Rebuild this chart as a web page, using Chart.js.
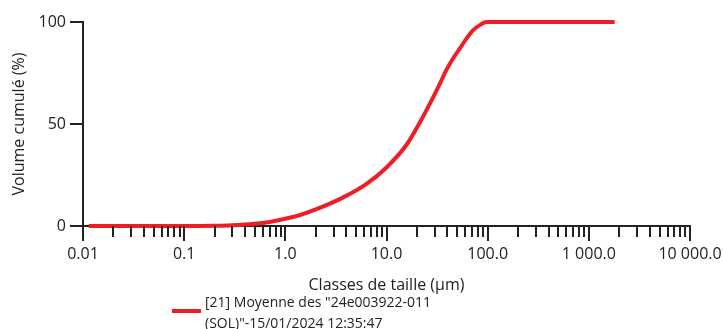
<!DOCTYPE html>
<html lang="fr">
<head>
<meta charset="utf-8">
<title>Volume cumulé</title>
<script src="https://cdn.jsdelivr.net/npm/chart.js@4.4.1/dist/chart.umd.min.js"></script>
<style>
  html, body { margin: 0; padding: 0; background: #fff; }
  #wrap { position: relative; width: 723px; height: 329px; overflow: hidden; }
  #chart { position: absolute; left: 0; top: 0; }
  #legend {
    position: absolute; left: 172px; top: 291px;
    font-family: "Open Sans", sans-serif; font-size: 14px; line-height: 21px; color: #222;
  }
  #legend .swatch { position: absolute; left: 0; top: 18px; width: 29px; height: 4px; background: #ec1f28; }
  #legend .txt { margin-left: 33px; white-space: nowrap; }
</style>
</head>
<body>
<div id="wrap">
  <canvas id="chart" width="723" height="329"></canvas>
  <div id="legend">
    <span class="swatch"></span>
    <div class="txt">[21] Moyenne des "24e003922-011<br>(SOL)"-15/01/2024 12:35:47</div>
  </div>
</div>
<script>
// Classes de taille (µm) et volume cumulé (%)
const sizes = [0.0114, 0.1, 0.2, 0.3, 0.5, 0.7, 0.95, 1.4, 2.0, 3.7, 6.3, 10,
               16, 21, 29, 34, 39, 46, 53, 62, 72, 85, 97, 1800];
const cumul = [0, 0, 0.1, 0.35, 1.1, 2.0, 3.3, 5.4, 8.1, 13.9, 20.5, 28.7,
               40.2, 50.1, 63.2, 70.2, 76.4, 82.5, 87, 92, 96, 98.7, 100, 100];

const seriesLabel = '[21] Moyenne des "24e003922-011 (SOL)"-15/01/2024 12:35:47';

// Graduations de l'axe des tailles
const xTickValues = [0.01, 0.1, 1, 10, 100, 1000, 10000];
const xTickLabels = ['0.01', '0.1', '1.0', '10.0', '100.0', '1 000.0', '10 000.0'];
const yTickValues = [0, 50, 100];

const FONT = '"Open Sans", sans-serif';
const INK = '#222';

// 1..9 par décade, plus la borne finale
function logTicks() {
  const out = [];
  for (let d = 0; d < xTickValues.length - 1; d++) {
    for (let k = 1; k <= 9; k++) out.push(k * xTickValues[d]);
  }
  out.push(xTickValues[xTickValues.length - 1]);
  return out;
}

function isMajor(v) {
  const l = Math.log10(v);
  return Math.abs(l - Math.round(l)) < 1e-6;
}

// Traits de graduation : longs pour les décades, courts sinon
const tickMarks = {
  id: 'tickMarks',
  afterDraw(chart) {
    const sc = chart.scales.x;
    const ctx = chart.ctx;
    ctx.save();
    ctx.strokeStyle = INK;
    ctx.lineWidth = 2;
    sc.ticks.forEach(t => {
      const px = Math.round(sc.getPixelForValue(t.value));
      const len = isMajor(t.value) ? 15 : 11;
      ctx.beginPath();
      ctx.moveTo(px, sc.top);
      ctx.lineTo(px, sc.top + len);
      ctx.stroke();
    });
    ctx.restore();
  }
};

new Chart(document.getElementById('chart'), {
  type: 'line',
  data: {
    datasets: [{
      label: seriesLabel,
      data: sizes.map((s, i) => ({ x: s, y: cumul[i] })),
      borderColor: '#ec1f28',
      borderWidth: 4,
      pointRadius: 0,
      cubicInterpolationMode: 'monotone',
      clip: 6
    }]
  },
  options: {
    responsive: false,
    animation: false,
    devicePixelRatio: 1,
    layout: { padding: { top: 22, right: 33, left: 0, bottom: 0 } },
    plugins: { legend: { display: false }, tooltip: { enabled: false } },
    scales: {
      x: {
        type: 'logarithmic',
        min: 0.01,
        max: 10000,
        afterFit: sc => { sc.height = 103; sc.paddingLeft = 0; sc.paddingRight = 0; },
        afterBuildTicks: sc => { sc.ticks = logTicks().map(v => ({ value: v })); },
        grid: { display: false, drawTicks: false },
        border: { display: true, color: INK, width: 2 },
        ticks: {
          autoSkip: false,
          maxRotation: 0,
          padding: 19,
          color: INK,
          font: { family: FONT, size: 16 },
          callback: v => {
            const i = xTickValues.findIndex(t => Math.abs(t - v) / t < 1e-6);
            return i >= 0 ? xTickLabels[i] : '';
          }
        },
        title: {
          display: true,
          text: 'Classes de taille (µm)',
          color: INK,
          font: { family: FONT, size: 16 },
          padding: { top: 0, bottom: 34 }
        }
      },
      y: {
        min: 0,
        max: 100,
        afterFit: sc => { sc.width = 83; sc.paddingTop = 0; sc.paddingBottom = 0; },
        afterBuildTicks: sc => { sc.ticks = yTickValues.map(v => ({ value: v })); },
        grid: { drawOnChartArea: false, color: INK, lineWidth: 2, tickLength: 13 },
        border: { display: true, color: INK, width: 2 },
        ticks: {
          padding: 4,
          color: INK,
          font: { family: FONT, size: 16 }
        },
        title: {
          display: true,
          text: 'Volume cumulé (%)',
          color: INK,
          font: { family: FONT, size: 16 },
          padding: { top: 10, bottom: 0 }
        }
      }
    }
  },
  plugins: [tickMarks]
});
</script>
</body>
</html>
